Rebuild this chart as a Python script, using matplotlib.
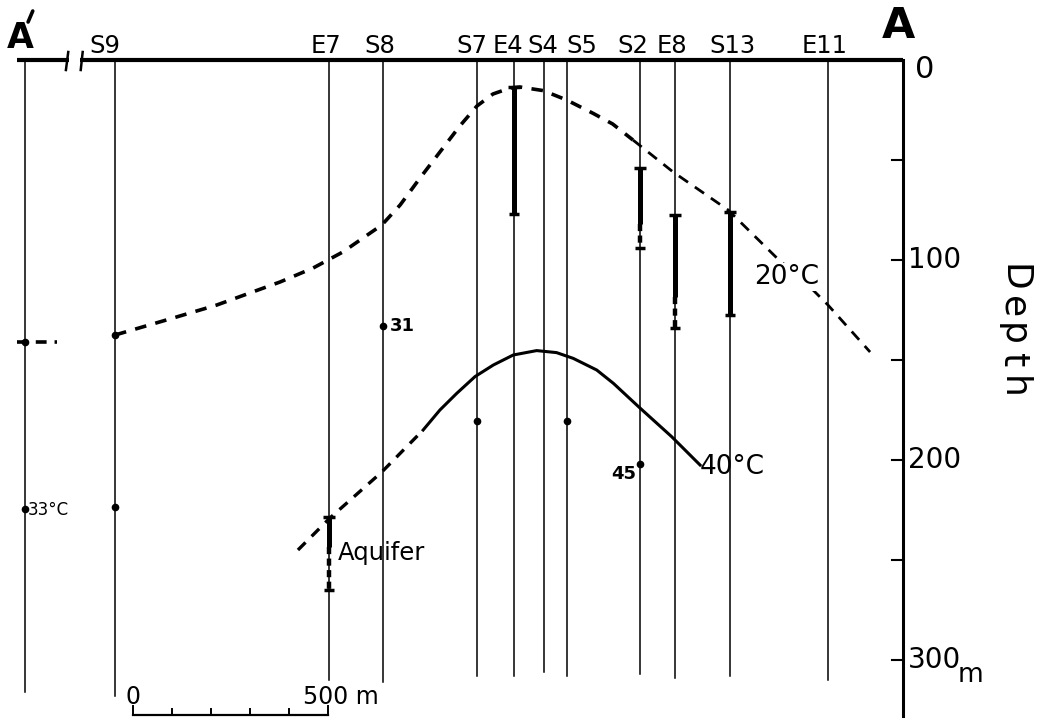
import matplotlib
matplotlib.use("Agg")
import matplotlib.pyplot as plt

# --- data (x in m along section, 0 = scale-bar origin; depth in m) ---
wells = ['S9', 'E7', 'S8', 'S7', 'E4', 'S4', 'S5', 'S2', 'E8', 'S13', 'E11']
well_x = [-46, 503, 641, 882, 977, 1054, 1113, 1300, 1390, 1531, 1782]
well_bottom = [318, 310, 311, 308, 308, 306, 308, 307, 309, 308, 310]
label_dx = [-25, -8, -8, -13, -15, -3, 38, -18, -8, 5, -8]

a_prime_x, a_prime_bottom = -277, 316
a_x, a_bottom = 1974, 328

# 20 C isotherm (dashed)
iso20_left_x = [-297, -195]
iso20_left_d = [141, 141]
iso20_x = [-46, 103, 215, 377, 462, 538, 638, 685, 736, 787, 838, 882, 923,
           967, 992, 1052, 1112, 1180, 1230, 1282]
iso20_d = [137.5, 129, 122.5, 111, 104, 96, 82.5, 72.5, 59, 46, 33, 23, 17,
           14, 13.5, 15.3, 20, 26.7, 32, 40]
iso20_tail_x = [1282, 1385, 1526, 1651, 1736, 1782, 1890]
iso20_tail_d = [40, 56, 75, 99, 113.5, 122.5, 146]

# 40 C isotherm (dashed part + solid part)
iso40_dash_x = [423, 505, 638, 744]
iso40_dash_d = [245, 229, 206, 185]
iso40_x = [744, 787, 830, 877, 924, 975, 1035, 1086, 1129, 1189, 1232, 1296,
           1381, 1454]
iso40_d = [185, 175, 166.7, 158.3, 152.5, 147.5, 145.3, 146.3, 149.2, 155,
           161.7, 173.3, 188.3, 202.5]

# measured intervals: well x, solid top, solid bottom, dashed bottom
iv_x = [977, 1300, 1390, 1531, 503]
iv_top = [13.5, 54, 77.5, 76, 228.5]
iv_solid = [77, 82, 118.5, 127.5, 243.5]
iv_bottom = [77, 94, 134, 127.5, 265]

# temperature readings
pt_x = [-277, -277, -46, -46, 641, 882, 1113, 1300]
pt_d = [141, 224.5, 137.5, 223.5, 133, 180.5, 180.5, 202]

depth_ticks = [50, 100, 150, 200, 250, 300]
depth_labels = [0, 100, 200, 300]
scale_ticks = [0, 100, 200, 300, 400, 500]

fig = plt.figure(figsize=(10.45, 7.22), dpi=100, facecolor='white')
ax = fig.add_axes([0, 0, 1, 1])
ax.set_xlim(-341, 2338.5)
ax.set_ylim(331, -30)
ax.axis('off')
K = 'black'

# top line with break and right depth axis
ax.plot([-297, -165], [0, 0], color=K, lw=3, solid_capstyle='butt')
ax.plot([-135, a_x], [0, 0], color=K, lw=3, solid_capstyle='butt')
ax.plot([-172, -166], [5, -4], color=K, lw=1.8)
ax.plot([-134, -129], [5, -4], color=K, lw=1.8)
ax.plot([a_x, a_x], [0, a_bottom], color=K, lw=2.2)
for d in depth_ticks:
    ax.plot([a_x - 28, a_x], [d, d], color=K, lw=1.5)
for d in depth_labels:
    if d == 0:
        ax.text(a_x + 31, 5, '0', ha='left', va='center', fontsize=22)
    else:
        ax.text(a_x + 13, d, str(d), ha='left', va='center', fontsize=20)
ax.text(2115, 307.5, 'm', ha='left', va='center', fontsize=19)

# "Depth" with wide letter spacing
for ch, d in zip('Depth', [109, 123.5, 137, 150, 163.5]):
    ax.text(2231, d, ch, rotation=-90, rotation_mode='anchor',
            ha='center', va='baseline', fontsize=26)

# wells
ax.plot([a_prime_x, a_prime_x], [0, a_prime_bottom], color=K, lw=1.1)
for name, x, b, dx in zip(wells, well_x, well_bottom, label_dx):
    ax.plot([x, x], [0, b], color=K, lw=1.1)
    ax.text(x + dx, -7, name, ha='center', va='center', fontsize=17.5)
ax.text(-290, -11, 'A', ha='center', va='center', fontsize=25, fontweight='bold')
ax.plot([-269, -257], [-19, -24.5], color=K, lw=2.6, solid_capstyle='round')
ax.text(a_x - 12, -17, 'A', ha='center', va='center', fontsize=31, fontweight='bold')

# isotherms
ax.plot(iso20_left_x, iso20_left_d, color=K, lw=2.6, linestyle=(0, (3.0, 2.2)))
ax.plot(iso20_x, iso20_d, color=K, lw=2.6, linestyle=(0, (3.2, 2.6)))
ax.plot(iso20_tail_x, iso20_tail_d, color=K, lw=2.0, linestyle=(0, (4.0, 3.0)))
ax.text(1677, 108.5, '20°C', ha='center', va='center', fontsize=19,
        bbox=dict(facecolor='white', edgecolor='none', pad=0.5))
ax.plot(iso40_dash_x, iso40_dash_d, color=K, lw=2.4, linestyle=(0, (3.2, 2.6)))
ax.plot(iso40_x, iso40_d, color=K, lw=2.2)
ax.text(1452, 203.5, '40°C', ha='left', va='center', fontsize=19)

# measured intervals
for x, t, s, b in zip(iv_x, iv_top, iv_solid, iv_bottom):
    ax.plot([x, x], [t, s], color=K, lw=3.6, solid_capstyle='butt')
    if b > s:
        ax.plot([x, x], [s, b], color=K, lw=3.2, linestyle=(0, (1.6, 1.0)))
    ax.plot([x], [t], marker='_', color=K, ms=9, mew=2.5)
    ax.plot([x], [b], marker='_', color=K, ms=7, mew=2.5)

# temperature points
ax.plot(pt_x, pt_d, 'o', color=K, ms=4.5, ls='none')
ax.text(-269, 225, '33°C', ha='left', va='center', fontsize=12)
ax.text(659, 133, '31', ha='left', va='center', fontsize=13, fontweight='bold')
ax.text(1290, 207, '45', ha='right', va='center', fontsize=13, fontweight='bold')
ax.text(526, 246.5, 'Aquifer', ha='left', va='center', fontsize=17.5)

# scale bar
ax.plot([scale_ticks[0], scale_ticks[-1]], [327.5, 327.5], color=K, lw=1.6)
for s in scale_ticks:
    ax.plot([s, s], [327.5, 324.5 if 0 < s < 500 else 323], color=K, lw=1.4)
ax.text(0, 318.5, '0', ha='center', va='center', fontsize=17)
ax.text(436, 318.5, '500 m', ha='left', va='center', fontsize=17)

fig.savefig('out.png', dpi=100, facecolor='white')
